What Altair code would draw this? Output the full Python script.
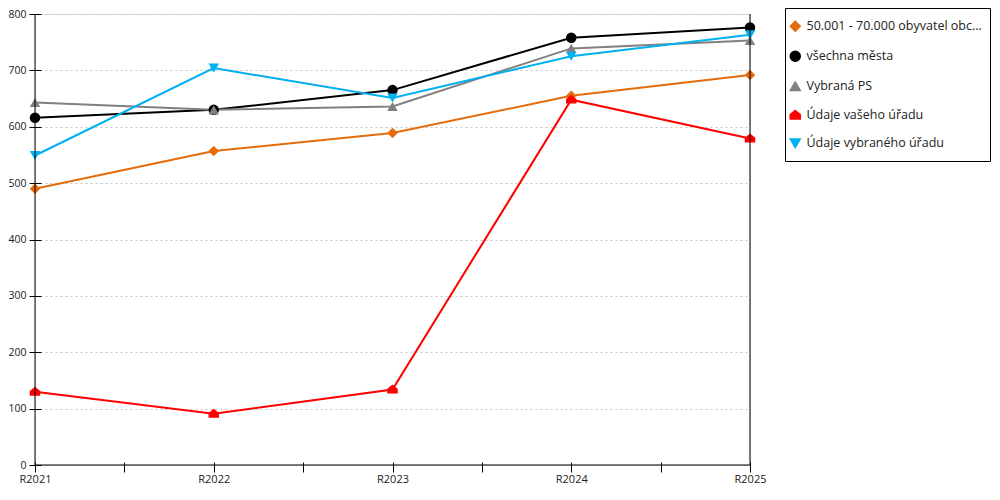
import json
import altair as alt
import pandas as pd

categories = ["R2021", "R2022", "R2023", "R2024", "R2025"]
series = [
    "50.001 - 70.000 obyvatel obc...",
    "všechna města",
    "Vybraná PS",
    "Údaje vašeho úřadu",
    "Údaje vybraného úřadu",
]
v_obce = [490, 557, 589, 655, 692]
v_mesta = [616, 630, 665, 758, 776]
v_ps = [643, 630, 636, 739, 753]
v_urad = [130, 91, 134, 648, 579]
v_vybrany = [549, 704, 651, 725, 763]
colors = ["#E46C0A", "#000000", "#808080", "#FF0000", "#00B0F0"]
house = "M-1,0.75L-1,-0.15L0,-0.95L1,-0.15L1,0.75Z"
shapes = ["diamond", "circle", "triangle-up", house, "triangle-down"]

rows = []
for s, vals in zip(series, [v_obce, v_mesta, v_ps, v_urad, v_vybrany]):
    for i, v in enumerate(vals):
        rows.append({"serie": s, "idx": i, "rok": categories[i], "hodnota": v})
df = pd.DataFrame(rows)

label_expr = f"datum.value % 1 == 0 ? {json.dumps(categories)}[datum.value] : ''"

FONT = "Open Sans"
W, H = 715, 451

x = alt.X("idx:Q", scale=alt.Scale(domain=[0, 4], nice=False, zero=False),
          axis=alt.Axis(values=[0, 0.5, 1, 1.5, 2, 2.5, 3, 3.5, 4], labelExpr=label_expr,
                        title=None, grid=False, labelFlush=False, labelOverlap=False,
                        domain=False, offset=-3, tickSize=10, labelPadding=1,
                        labelFontSize=11, tickColor="#000"))
y = alt.Y("hodnota:Q", scale=alt.Scale(domain=[0, 800], nice=False),
          axis=alt.Axis(values=list(range(0, 801, 100)), title=None, grid=True,
                        gridColor="#C4C4C4", gridDash=[2, 3], labelFlush=False,
                        domain=False, offset=-6, tickSize=12, labelPadding=3,
                        labelFontSize=10.5, tickColor="#000"))
color_scale = alt.Scale(domain=series, range=colors)
shape_scale = alt.Scale(domain=series, range=shapes)

base = alt.Chart(df)
lines = base.mark_line(strokeWidth=2).encode(
    x=x, y=y, color=alt.Color("serie:N", scale=color_scale), detail="serie:N")
points = base.mark_point(filled=True, size=110, opacity=1).encode(
    x=x, y=y,
    color=alt.Color("serie:N", scale=color_scale,
                    legend=alt.Legend(title=None, orient="none", legendX=754, legendY=6,
                                      rowPadding=13, symbolSize=100, labelFontSize=12.5,
                                      labelColor="#222", labelOffset=5, padding=0,
                                      labelLimit=300, symbolOpacity=1)),
    shape=alt.Shape("serie:N", scale=shape_scale),
)

one = pd.DataFrame({"a": [0]})
box = alt.Chart(one).mark_rect(fill="white", stroke="black", strokeWidth=1).encode(
    x=alt.value(750.5), x2=alt.value(955.5), y=alt.value(-5.5), y2=alt.value(147.5))
right_border = alt.Chart(one).mark_rule(color="black", strokeWidth=1).encode(
    x=alt.value(W), y=alt.value(0), y2=alt.value(H))
left_border = alt.Chart(one).mark_rule(color="black", strokeWidth=1).encode(
    x=alt.value(0), y=alt.value(0), y2=alt.value(H))
bottom_border = alt.Chart(one).mark_rule(color="black", strokeWidth=1).encode(
    x=alt.value(0), x2=alt.value(W), y=alt.value(H))

chart = alt.layer(box, lines, points, right_border, left_border, bottom_border).properties(
    width=W, height=H,
    autosize=alt.AutoSizeParams(type="none"),
    padding={"left": 27, "top": 6, "right": 242, "bottom": 19},
).configure_view(stroke=None).configure(
    font=FONT
).configure_axis(labelColor="#222", labelFont=FONT
).configure_legend(labelFont=FONT)

chart.save("out.html", embed_options={"renderer": "svg", "actions": False})
